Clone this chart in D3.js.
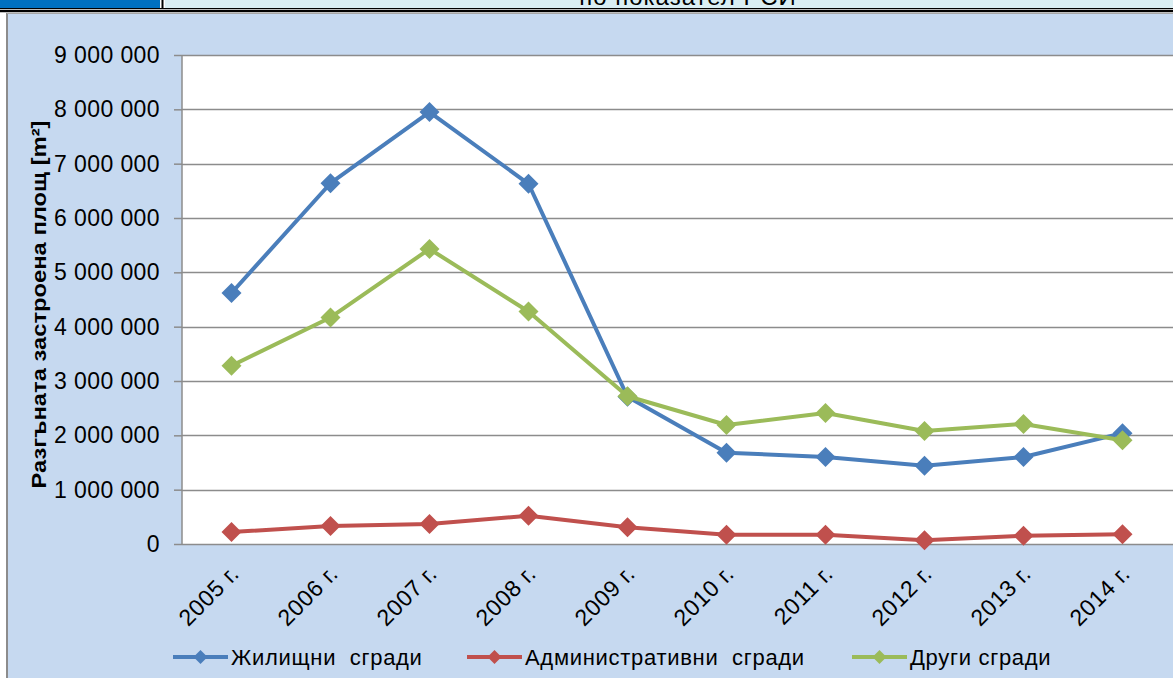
<!DOCTYPE html>
<html><head><meta charset="utf-8">
<script src="https://cdn.jsdelivr.net/npm/d3@7"></script>
<style>body{margin:0;background:#fff;}svg{display:block;font-family:"Liberation Sans",Arial,sans-serif;}</style>
</head><body>
<svg id="c" width="1173" height="678"></svg>
<script>
const categories = ["2005 г.","2006 г.","2007 г.","2008 г.","2009 г.","2010 г.","2011 г.","2012 г.","2013 г.","2014 г."];
const housing = [4620000,6640000,7950000,6630000,2710000,1680000,1600000,1440000,1600000,2040000];
const admin   = [220000,330000,370000,520000,310000,170000,170000,70000,150000,180000];
const other   = [3280000,4170000,5430000,4280000,2720000,2190000,2410000,2080000,2210000,1910000];
const yTicks = [0,1000000,2000000,3000000,4000000,5000000,6000000,7000000,8000000,9000000];
const seriesNames = ["Жилищни  сгради","Административни  сгради","Други сгради"];
const seriesColors = ["#4a7ebb","#c0504d","#9bbb59"];
const titleText = "по показател РСИ";
const yTitle = "Разгъната застроена площ [m²]";

const svg = d3.select("#c");
// top strip
svg.append("rect").attr("x",0).attr("y",0).attr("width",160).attr("height",8).attr("fill","#0070c0");
svg.append("rect").attr("x",165).attr("y",0).attr("width",1008).attr("height",8).attr("fill","#daeef3");
svg.append("defs").append("clipPath").attr("id","tc").append("rect").attr("x",165).attr("y",0).attr("width",1008).attr("height",7);
svg.append("text").attr("x",688).attr("y",5).attr("text-anchor","middle").attr("font-size",24).attr("letter-spacing",1)
  .attr("clip-path","url(#tc)").attr("fill","#000").text(titleText);
svg.append("line").attr("x1",162.5).attr("x2",162.5).attr("y1",0).attr("y2",9).attr("stroke","#000").attr("stroke-width",2);
svg.append("line").attr("x1",0).attr("x2",1173).attr("y1",8.5).attr("y2",8.5).attr("stroke","#000").attr("stroke-width",1);
svg.append("line").attr("x1",0).attr("x2",1173).attr("y1",11).attr("y2",11).attr("stroke","#000").attr("stroke-width",2.5);
// chart area
svg.append("rect").attr("x",7).attr("y",13).attr("width",1166).attr("height",665).attr("fill","#c6d9f0");
svg.append("line").attr("x1",7).attr("x2",7).attr("y1",13).attr("y2",678).attr("stroke","#8c8c8c").attr("stroke-width",2);
svg.append("line").attr("x1",7).attr("x2",1173).attr("y1",13.5).attr("y2",13.5).attr("stroke","#a6a6a6").attr("stroke-width",1);

const L=182, R=1172, T=55, B=544;
const x = d3.scaleBand().domain(categories).range([L,R]);
const y = d3.scaleLinear().domain([0,9000000]).range([B,T]);
svg.append("rect").attr("x",L).attr("y",T).attr("width",R-L+1).attr("height",B-T).attr("fill","#fff");

// gridlines
svg.append("g").selectAll("line").data(yTicks.filter(d=>d>0)).join("line")
  .attr("x1",L).attr("x2",1173).attr("y1",d=>Math.round(y(d))+0.5).attr("y2",d=>Math.round(y(d))+0.5)
  .attr("stroke","#8c8c8c").attr("stroke-width",1.5);

const fmt = d => d3.format(",")(d).replace(/,/g," ");
const ya = svg.append("g").attr("transform",`translate(${L},0)`)
  .call(d3.axisLeft(y).tickValues(yTicks).tickFormat(fmt).tickSize(8).tickPadding(14));
ya.select(".domain").attr("stroke","#8c8c8c").attr("stroke-width",1.5).attr("d",`M0,${T}V${B}`);
ya.selectAll(".tick line").attr("stroke","#8c8c8c").attr("stroke-width",1.5);
ya.selectAll("text").attr("font-size",23).attr("letter-spacing",0.4).attr("fill","#000").attr("font-family","Liberation Sans, Arial, sans-serif");

// x axis baseline
svg.append("line").attr("x1",L).attr("x2",1173).attr("y1",B+0.5).attr("y2",B+0.5).attr("stroke","#8c8c8c").attr("stroke-width",1.5);
// x labels
svg.append("g").selectAll("text").data(categories).join("text")
  .attr("transform",d=>`translate(${x(d)+x.bandwidth()/2+9},${B+31}) rotate(-45)`)
  .attr("text-anchor","end").attr("font-size",23).attr("letter-spacing",0.6).attr("fill","#000").text(d=>d);

// y title
svg.append("text").attr("transform",`translate(46,${(T+B)/2+5}) rotate(-90)`).attr("text-anchor","middle")
  .attr("font-size",21).attr("font-weight","bold").attr("textLength",368).attr("lengthAdjust","spacingAndGlyphs")
  .attr("fill","#000").text(yTitle);

const cx = d => x(d)+x.bandwidth()/2;
const data = [housing, admin, other];
const diamond = s => `M0,${-s}L${s},0L0,${s}L${-s},0Z`;
data.forEach((vals,i)=>{
  const pts = categories.map((c,j)=>[cx(c), y(vals[j])]);
  svg.append("path").attr("d",d3.line()(pts)).attr("fill","none").attr("stroke",seriesColors[i]).attr("stroke-width",4).attr("stroke-linejoin","round");
  svg.append("g").selectAll("path").data(pts).join("path")
    .attr("transform",p=>`translate(${p[0]},${p[1]})`).attr("d",diamond(10)).attr("fill",seriesColors[i]);
});

// legend
const legX = [173, 467, 852];
seriesNames.forEach((n,i)=>{
  const g = svg.append("g").attr("transform",`translate(${legX[i]},657)`);
  g.append("line").attr("x1",0).attr("x2",55).attr("stroke",seriesColors[i]).attr("stroke-width",4);
  g.append("path").attr("transform","translate(27.5,0)").attr("d",diamond(7)).attr("fill",seriesColors[i]);
  g.append("text").attr("x",58).attr("y",8).attr("font-size",22).attr("letter-spacing",0.7).attr("fill","#000").style("white-space","pre").text(n);
});
</script>
</body></html>
